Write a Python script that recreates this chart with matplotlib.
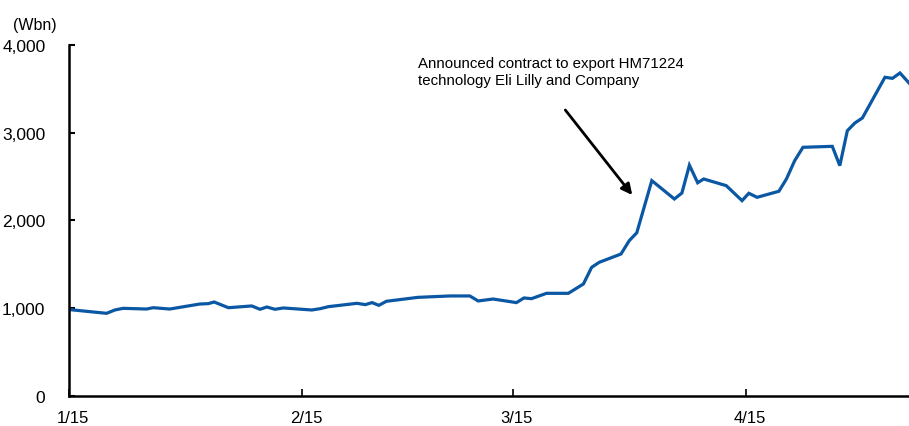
import matplotlib
matplotlib.use("Agg")
import matplotlib.pyplot as plt
import matplotlib.transforms as mtransforms

plt.rcParams['font.family'] = ['Liberation Sans', 'DejaVu Sans']

# days since 1/15 and market cap (Wbn)
days = [0, 5.0, 6.1, 7.2, 10.3, 11.2, 13.4, 17.4, 18.5, 19.3, 21.2, 24.3, 25.4, 26.3,
        27.4, 28.5, 32.3, 33.4, 34.5, 38.3, 39.4, 40.3, 41.2, 42.2, 46.4, 50.7, 53.3,
        54.4, 56.4, 59.5, 60.5, 61.5, 63.5, 66.4, 68.4, 69.5, 70.5, 73.4, 74.5, 75.5,
        77.5, 80.5, 81.5, 82.5, 83.6, 84.4, 87.4, 89.5, 90.4, 91.5, 94.4, 95.4, 96.5,
        97.6, 101.5, 102.5, 103.5, 104.5, 105.5, 108.5, 109.5, 110.5, 111.7]
values = [985, 942, 980, 999, 991, 1006, 991, 1048, 1052, 1071, 1006, 1026, 988, 1014,
          988, 1003, 980, 995, 1018, 1056, 1041, 1064, 1033, 1079, 1124, 1140, 1140,
          1083, 1105, 1064, 1117, 1109, 1170, 1170, 1276, 1466, 1523, 1618, 1770, 1860,
          2454, 2245, 2313, 2630, 2430, 2473, 2397, 2226, 2310, 2264, 2333, 2473, 2682,
          2834, 2845, 2625, 3023, 3111, 3168, 3632, 3620, 3681, 3567]

tick_days = [0, 31, 59, 90]
tick_labels = ['1/15', '2/15', '3/15', '4/15']
y_ticks = [0, 1000, 2000, 3000, 4000]

fig = plt.figure(figsize=(9.09, 4.27), dpi=100)
ax = fig.add_axes([0.0759, 0.0703, 0.9241, 0.822])

ax.plot(days, values, color='#0a57a4', linewidth=2.3, solid_joinstyle='miter')

ax.set_xlim(0, 111.7)
ax.set_ylim(0, 4000)
ax.set_xticks(tick_days)
ax.set_xticklabels(tick_labels)
ax.set_yticks(y_ticks)
ax.set_yticklabels(['{:,}'.format(v) for v in y_ticks])

for s in ['top', 'right']:
    ax.spines[s].set_visible(False)
for s in ['left', 'bottom']:
    ax.spines[s].set_linewidth(1.8)

ax.tick_params(axis='y', direction='in', length=4, width=1.5, pad=17, labelsize=12.5)
ax.tick_params(axis='x', direction='in', length=5, width=1.2, pad=10, labelsize=12)

# x labels sit a little right of their ticks in the original
offset = mtransforms.ScaledTranslation(4 / 100, 0, fig.dpi_scale_trans)
for lbl in ax.get_xticklabels():
    lbl.set_transform(lbl.get_transform() + offset)

fig.text(0.014, 0.94, '(Wbn)', fontsize=11.5, ha='left', va='center')

ax.annotate('', xy=(74.9, 2290), xytext=(66.0, 3259),
            arrowprops=dict(arrowstyle='-|>', color='black', lw=2,
                            mutation_scale=16, shrinkA=0, shrinkB=0))
ax.text(46.4, 3870, 'Announced contract to export HM71224\ntechnology Eli Lilly and Company',
        fontsize=10.8, ha='left', va='top', linespacing=1.2)

fig.savefig('out.png', dpi=100)
